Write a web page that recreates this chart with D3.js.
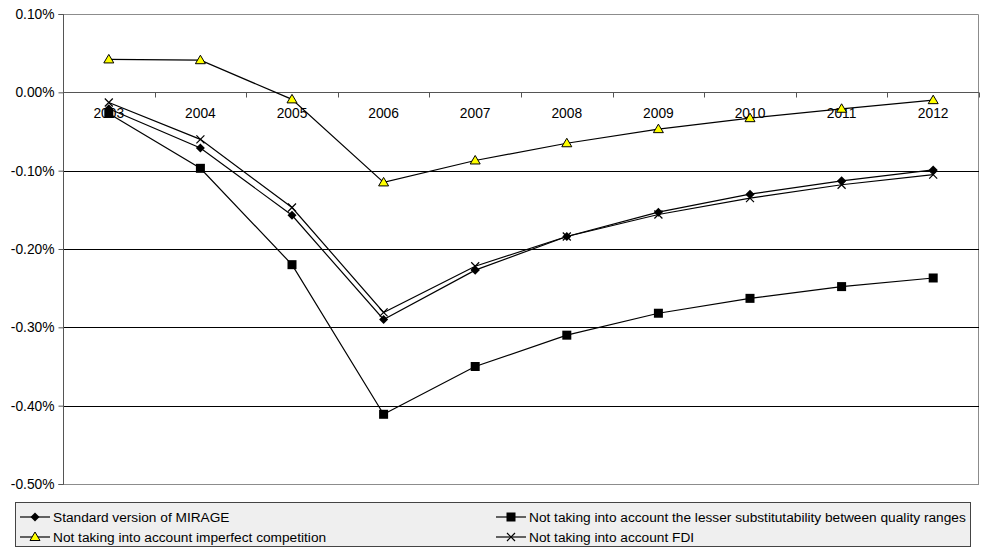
<!DOCTYPE html>
<html>
<head>
<meta charset="utf-8">
<script src="https://cdn.jsdelivr.net/npm/d3@7"></script>
<style>
  html, body { margin: 0; padding: 0; background: #ffffff; }
  svg { display: block; font-family: "Liberation Sans", Arial, sans-serif; }
</style>
</head>
<body>
<svg id="chart" width="981" height="548"></svg>
<script>
// Years on the category axis
const years = ["2003", "2004", "2005", "2006", "2007", "2008", "2009", "2010", "2011", "2012"];

// Series values, in percent
const standardMirage = [-0.021, -0.071, -0.157, -0.290, -0.227, -0.184, -0.153, -0.130, -0.113, -0.099];
const noQualitySubst = [-0.027, -0.097, -0.220, -0.411, -0.350, -0.310, -0.282, -0.263, -0.248, -0.237];
const noImperfectComp = [0.042, 0.041, -0.009, -0.115, -0.087, -0.065, -0.047, -0.033, -0.021, -0.010];
const noFDI = [-0.013, -0.060, -0.147, -0.281, -0.222, -0.184, -0.156, -0.135, -0.118, -0.105];

// Y-axis ticks
const yTicks = [0.10, 0.00, -0.10, -0.20, -0.30, -0.40, -0.50];

const seriesNames = [
  "Standard version of MIRAGE",
  "Not taking into account the lesser substitutability between quality ranges",
  "Not taking into account imperfect competition",
  "Not taking into account FDI"
];

const series = [
  { name: seriesNames[0], values: standardMirage, marker: "diamond" },
  { name: seriesNames[1], values: noQualitySubst, marker: "square" },
  { name: seriesNames[2], values: noImperfectComp, marker: "triangle" },
  { name: seriesNames[3], values: noFDI, marker: "cross" }
];

const svg = d3.select("#chart");
const plot = { left: 63, right: 979, top: 14, bottom: 484 };
const tickFont = 13.8;
const legendFont = 13.7;

const x = d3.scaleBand().domain(years).range([plot.left, plot.right]);
const y = d3.scaleLinear().domain([-0.5, 0.1]).range([plot.bottom, plot.top]);
const cx = d => x(d) + x.bandwidth() / 2;

// Plot-area frame (top and right edges)
svg.append("path")
  .attr("d", `M${plot.left},${plot.top + 0.5}H${plot.right - 0.5}V${plot.bottom}`)
  .attr("fill", "none").attr("stroke", "#8c8c8c").attr("stroke-width", 1);

// Horizontal gridlines
svg.append("g").selectAll("line")
  .data(yTicks.filter(t => t < 0 && t > -0.5))
  .join("line")
  .attr("x1", plot.left).attr("x2", plot.right)
  .attr("y1", d => Math.round(y(d)) + 0.5).attr("y2", d => Math.round(y(d)) + 0.5)
  .attr("stroke", "#000").attr("stroke-width", 1);

// Bottom edge
svg.append("line")
  .attr("x1", plot.left).attr("x2", plot.right)
  .attr("y1", Math.round(y(-0.5)) + 0.5).attr("y2", Math.round(y(-0.5)) + 0.5)
  .attr("stroke", "#8c8c8c");

// Y axis (hyphen-minus labels)
const yAxis = d3.axisLeft(y).tickValues(yTicks).tickSize(5).tickPadding(4)
  .tickFormat(d => (d < 0 ? "-" : "") + Math.abs(d).toFixed(2) + "%");
const yG = svg.append("g").attr("transform", `translate(${plot.left + 0.5},0)`).call(yAxis);
yG.select(".domain").attr("stroke", "#555").attr("d", `M-5,${plot.top + 0.5}H0V${plot.bottom + 0.5}H-5`);
yG.selectAll(".tick line").attr("stroke", "#555");
yG.selectAll(".tick text").attr("font-size", tickFont).attr("fill", "#000")
  .attr("font-family", "Liberation Sans, Arial, sans-serif");

// X axis along zero, ticks at category boundaries
const zeroY = Math.round(y(0)) + 0.5;
const xG = svg.append("g");
xG.append("line").attr("x1", plot.left).attr("x2", plot.right)
  .attr("y1", zeroY).attr("y2", zeroY).attr("stroke", "#555");
xG.selectAll("line.tk").data(years.slice(1).concat(["end"]))
  .join("line").attr("class", "tk")
  .attr("x1", (d, i) => Math.round(plot.left + (i + 1) * x.step()) + 0.5)
  .attr("x2", (d, i) => Math.round(plot.left + (i + 1) * x.step()) + 0.5)
  .attr("y1", zeroY).attr("y2", zeroY + 5).attr("stroke", "#555");
xG.selectAll("text").data(years).join("text")
  .attr("x", d => cx(d)).attr("y", zeroY + 25)
  .attr("text-anchor", "middle").attr("font-size", tickFont).attr("fill", "#000")
  .text(d => d);

// Marker drawing
function drawMarker(g, type, px, py) {
  if (type === "diamond") {
    g.append("path").attr("d", `M${px},${py - 4.5}L${px + 4.5},${py}L${px},${py + 4.5}L${px - 4.5},${py}Z`)
      .attr("fill", "#000");
  } else if (type === "square") {
    g.append("rect").attr("x", px - 4.5).attr("y", py - 4.5).attr("width", 9).attr("height", 9)
      .attr("fill", "#000");
  } else if (type === "triangle") {
    g.append("path").attr("d", `M${px},${py - 5}L${px + 5},${py + 3.5}L${px - 5},${py + 3.5}Z`)
      .attr("fill", "#ffff00").attr("stroke", "#000").attr("stroke-width", 1);
  } else if (type === "cross") {
    g.append("path").attr("d", `M${px - 4},${py - 4}L${px + 4},${py + 4}M${px + 4},${py - 4}L${px - 4},${py + 4}`)
      .attr("stroke", "#000").attr("stroke-width", 1.2).attr("fill", "none");
  }
}

const line = d3.line().x(d => cx(d.year)).y(d => y(d.value));

const seriesG = svg.append("g");
series.forEach(s => {
  const pts = years.map((yr, i) => ({ year: yr, value: s.values[i] }));
  const g = seriesG.append("g");
  g.append("path").datum(pts).attr("d", line)
    .attr("fill", "none").attr("stroke", "#000").attr("stroke-width", 1.2);
  pts.forEach(p => drawMarker(g, s.marker, cx(p.year), y(p.value)));
});

// Legend
const legend = svg.append("g");
legend.append("rect").attr("x", 15.5).attr("y", 502.5).attr("width", 955).attr("height", 44)
  .attr("fill", "#efefef").attr("stroke", "#444").attr("stroke-width", 1);

const legendPos = [
  { x: 20, y: 517 },
  { x: 496, y: 517 },
  { x: 20, y: 537 },
  { x: 496, y: 537 }
];
series.forEach((s, i) => {
  const p = legendPos[i];
  const g = legend.append("g");
  g.append("line").attr("x1", p.x).attr("x2", p.x + 30).attr("y1", p.y).attr("y2", p.y)
    .attr("stroke", "#000").attr("stroke-width", 1.2);
  drawMarker(g, s.marker, p.x + 15, p.y);
  g.append("text").attr("x", p.x + 33).attr("y", p.y + 5)
    .attr("font-size", legendFont).attr("fill", "#000").text(s.name);
});
</script>
</body>
</html>
